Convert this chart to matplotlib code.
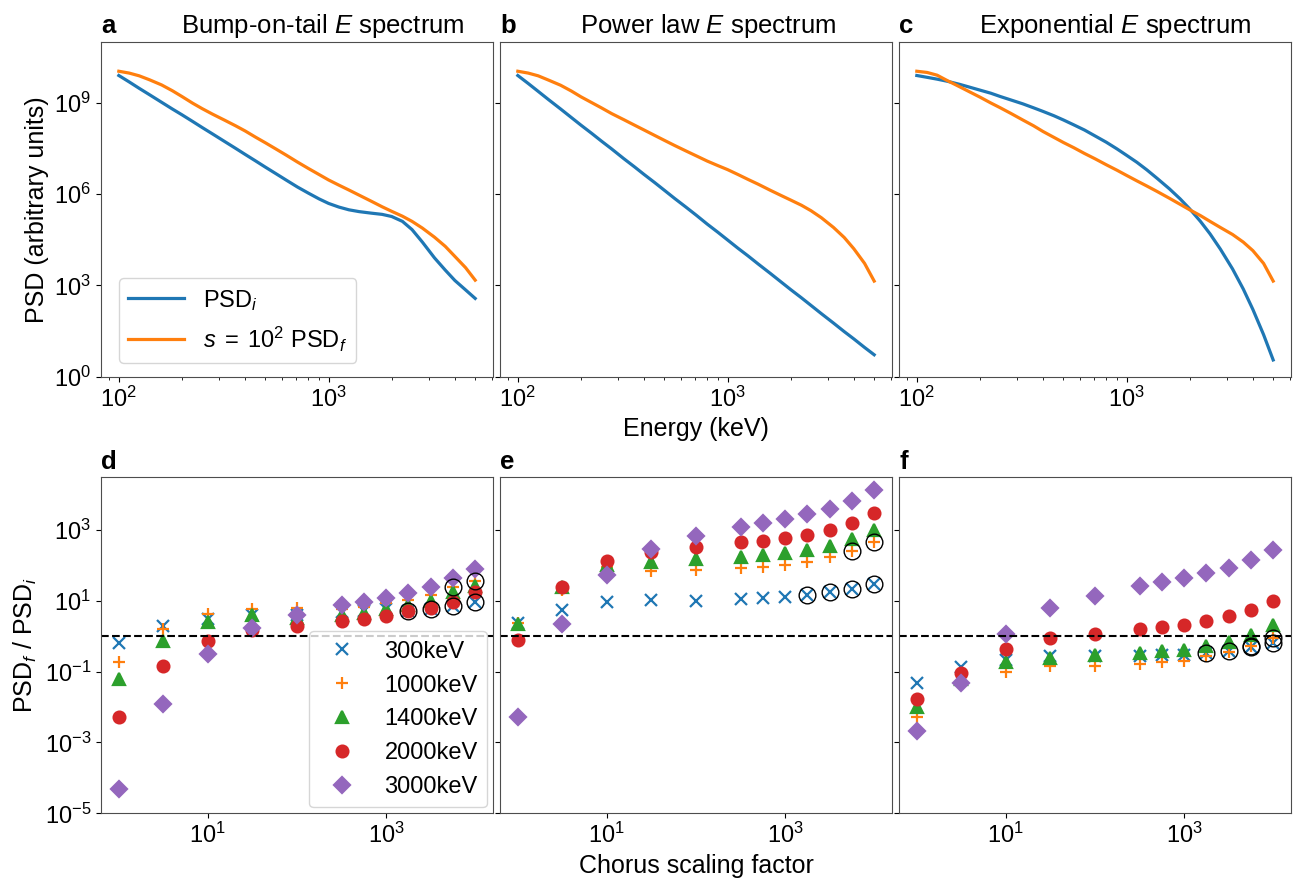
import numpy as np
import matplotlib
matplotlib.use("Agg")
import matplotlib.pyplot as plt
from matplotlib.ticker import FixedLocator, NullLocator

plt.rcParams['font.family'] = ['Liberation Sans', 'DejaVu Sans']
plt.rcParams['mathtext.fontset'] = 'custom'
plt.rcParams['mathtext.rm'] = 'Liberation Sans'
plt.rcParams['mathtext.it'] = 'Liberation Sans:italic'
plt.rcParams['mathtext.bf'] = 'Liberation Sans:bold'

# ---- top row: spectra (log10 PSD) ----
energy = [100, 112, 125, 140, 160, 180, 200, 225, 250, 280, 320, 360,
          400, 450, 500, 560, 630, 710, 800, 900, 1000, 1120, 1250, 1400,
          1600, 1800, 2000, 2250, 2500, 2800, 3200, 3600, 4000, 4500, 5000]

bump_i = [9.89, 9.68, 9.47, 9.26, 9.01, 8.79, 8.60, 8.38, 8.18, 7.97, 7.72, 7.50,
          7.30, 7.08, 6.88, 6.67, 6.45, 6.23, 6.03, 5.84, 5.69, 5.57, 5.48, 5.42,
          5.37, 5.33, 5.26, 5.10, 4.83, 4.42, 3.90, 3.50, 3.16, 2.85, 2.57]
bump_f = [10.03, 9.97, 9.88, 9.75, 9.58, 9.39, 9.20, 8.98, 8.80, 8.62, 8.42, 8.24,
          8.07, 7.86, 7.68, 7.48, 7.27, 7.05, 6.84, 6.64, 6.46, 6.29, 6.13, 5.96,
          5.76, 5.58, 5.43, 5.27, 5.10, 4.88, 4.58, 4.28, 3.95, 3.58, 3.17]
power_i = [9.89, 9.63, 9.37, 9.10, 8.79, 8.51, 8.26, 7.99, 7.74, 7.48, 7.16, 6.89,
           6.64, 6.37, 6.12, 5.85, 5.58, 5.30, 5.01, 4.74, 4.49, 4.22, 3.97, 3.70,
           3.39, 3.11, 2.86, 2.59, 2.34, 2.07, 1.76, 1.48, 1.24, 0.96, 0.72]
power_f = [10.03, 9.97, 9.88, 9.74, 9.57, 9.38, 9.19, 9.00, 8.83, 8.64, 8.44, 8.26,
           8.10, 7.92, 7.76, 7.59, 7.42, 7.25, 7.08, 6.93, 6.80, 6.64, 6.48, 6.32,
           6.12, 5.95, 5.80, 5.63, 5.45, 5.22, 4.90, 4.57, 4.20, 3.72, 3.14]
exp_i = [9.89, 9.83, 9.77, 9.70, 9.60, 9.50, 9.41, 9.31, 9.20, 9.09, 8.96, 8.83,
         8.71, 8.57, 8.43, 8.27, 8.10, 7.90, 7.70, 7.48, 7.27, 7.04, 6.79, 6.51,
         6.17, 5.84, 5.51, 5.10, 4.69, 4.19, 3.54, 2.88, 2.21, 1.38, 0.55]
exp_f = [10.03, 9.99, 9.90, 9.72, 9.52, 9.34, 9.18, 8.99, 8.83, 8.65, 8.43, 8.24,
         8.05, 7.86, 7.69, 7.52, 7.33, 7.15, 6.96, 6.78, 6.61, 6.43, 6.26, 6.08,
         5.86, 5.66, 5.48, 5.29, 5.10, 4.90, 4.67, 4.42, 4.14, 3.72, 3.14]

top_titles = ['Bump-on-tail $E$ spectrum', 'Power law $E$ spectrum',
              'Exponential $E$ spectrum']
top_letters = ['a', 'b', 'c']

# ---- bottom row: PSD_f / PSD_i vs chorus scaling (log10 values) ----
scaling = [1, 3.16, 10, 31.6, 100, 316, 562, 1000, 1778, 3162, 5623, 10000]
labels = ['300keV', '1000keV', '1400keV', '2000keV', '3000keV']
markers = ['x', '+', '^', 'o', 'D']

ratio_d = [
    [-0.18, 0.28, 0.49, 0.60, 0.60, 0.68, 0.72, 0.76, 0.70, 0.77, 0.86, 0.98],
    [-0.73, 0.20, 0.62, 0.77, 0.79, 0.78, 0.82, 0.93, 1.03, 1.16, 1.38, 1.56],
    [-1.21, -0.13, 0.39, 0.59, 0.51, 0.60, 0.65, 0.78, 0.89, 1.00, 1.26, 1.42],
    [-2.27, -0.83, -0.13, 0.18, 0.29, 0.42, 0.48, 0.56, 0.70, 0.79, 0.98, 1.26],
    [-4.32, -1.91, -0.51, 0.22, 0.59, 0.87, 0.98, 1.08, 1.23, 1.40, 1.64, 1.90],
]
ratio_e = [
    [0.37, 0.75, 0.96, 1.03, 1.01, 1.05, 1.08, 1.10, 1.17, 1.24, 1.33, 1.48],
    [0.37, 1.31, 1.95, 1.85, 1.88, 1.92, 1.97, 2.02, 2.11, 2.23, 2.42, 2.66],
    [0.34, 1.40, 2.02, 2.11, 2.18, 2.25, 2.29, 2.35, 2.44, 2.55, 2.74, 2.99],
    [-0.10, 1.40, 2.13, 2.39, 2.53, 2.65, 2.70, 2.77, 2.86, 3.01, 3.21, 3.48],
    [-2.27, 0.34, 1.72, 2.47, 2.84, 3.10, 3.21, 3.32, 3.46, 3.60, 3.83, 4.12],
]
ratio_f = [
    [-1.33, -0.86, -0.67, -0.55, -0.57, -0.57, -0.53, -0.53, -0.48, -0.43, -0.29, -0.18],
    [-2.27, -1.30, -1.00, -0.85, -0.84, -0.78, -0.74, -0.69, -0.57, -0.45, -0.27, -0.05],
    [-2.01, -1.20, -0.74, -0.60, -0.52, -0.46, -0.43, -0.38, -0.27, -0.15, 0.04, 0.32],
    [-1.78, -1.04, -0.36, -0.04, 0.07, 0.20, 0.25, 0.32, 0.42, 0.56, 0.75, 1.01],
    [-2.67, -1.32, 0.06, 0.79, 1.15, 1.42, 1.54, 1.64, 1.78, 1.94, 2.16, 2.44],
]
bottom_letters = ['d', 'e', 'f']
# points flagged with an open black ring (series index -> point indices)
ringed = {0: [8, 9, 10, 11], 1: [10, 11]}

FS = 17
W, H = 1293, 885
lefts = [101, 500, 899]
aw = 392
frame_col = '0.3'

fig = plt.figure(figsize=(W / 100, H / 100), dpi=100)


def make_axes(left, top, bottom, sharey=None):
    ax = fig.add_axes([left / W, 1 - bottom / H, aw / W, (bottom - top) / H],
                      sharey=sharey)
    for sp in ax.spines.values():
        sp.set_edgecolor(frame_col)
    return ax


# top row
top_axes = []
spectra = [(bump_i, bump_f), (power_i, power_f), (exp_i, exp_f)]
for k in range(3):
    ax = make_axes(lefts[k], 41.7, 376.7, sharey=top_axes[0] if k else None)
    psd_i, psd_f = spectra[k]
    ax.plot(energy, 10.0 ** np.array(psd_i), color='C0', lw=2.3, label='PSD$_i$')
    ax.plot(energy, 10.0 ** np.array(psd_f), color='C1', lw=2.3,
            label=r'$s\;=\;10^2$ PSD$_f$')
    ax.set_xscale('log')
    ax.set_yscale('log')
    ax.set_ylim(1, 1e11)
    ax.yaxis.set_major_locator(FixedLocator([1, 1e3, 1e6, 1e9]))
    ax.yaxis.set_minor_locator(NullLocator())
    ax.tick_params(labelsize=FS)
    if k:
        ax.tick_params(labelleft=False)
    ax.set_title(top_letters[k], loc='left', fontweight='bold', fontsize=18.5)
    ax.annotate(top_titles[k], xy=(0.204, 1), xycoords='axes fraction',
                xytext=(0, 6), textcoords='offset points', va='baseline',
                ha='left', fontsize=18.5)
    top_axes.append(ax)

top_axes[0].set_ylabel('PSD (arbitrary units)', fontsize=18)
top_axes[1].set_xlabel('Energy (keV)', fontsize=18)
top_axes[0].legend(loc='lower left', bbox_to_anchor=(0.046, 0.041),
                   borderaxespad=0, fontsize=FS, handlelength=2.35)

# bottom row
bot_axes = []
ratios = [ratio_d, ratio_e, ratio_f]
for k in range(3):
    ax = make_axes(lefts[k], 477.3, 813.3, sharey=bot_axes[0] if k else None)
    for j in range(5):
        vals = 10.0 ** np.array(ratios[k][j])
        ax.plot(scaling, vals, ls='none', marker=markers[j], color='C%d' % j,
                ms=8.5, mew=1.6, label=labels[j])
    for j, idx in ringed.items():
        xs = [scaling[i] for i in idx]
        ys = [10.0 ** ratios[k][j][i] for i in idx]
        ax.plot(xs, ys, ls='none', marker='o', ms=12, mfc='none', mec='k',
                mew=1.0)
    ax.axhline(1, color='k', ls='--', lw=1.5)
    ax.set_xscale('log')
    ax.set_yscale('log')
    ax.set_ylim(1e-5, 10 ** 4.49)
    ax.xaxis.set_major_locator(FixedLocator([10, 1000]))
    ax.xaxis.set_minor_locator(NullLocator())
    ax.yaxis.set_major_locator(FixedLocator([1e-5, 1e-3, 1e-1, 10, 1e3]))
    ax.yaxis.set_minor_locator(NullLocator())
    ax.tick_params(labelsize=FS)
    if k:
        ax.tick_params(labelleft=False)
    ax.set_title(bottom_letters[k], loc='left', fontweight='bold', fontsize=18.5)
    bot_axes.append(ax)

bot_axes[0].set_ylabel('PSD$_f$ / PSD$_i$', fontsize=18)
bot_axes[1].set_xlabel('Chorus scaling factor', fontsize=18)
h, l = bot_axes[0].get_legend_handles_labels()
bot_axes[0].legend(h[:5], l[:5], loc='lower right', fontsize=FS,
                   borderaxespad=0.25)

fig.savefig('out.png', dpi=100)
